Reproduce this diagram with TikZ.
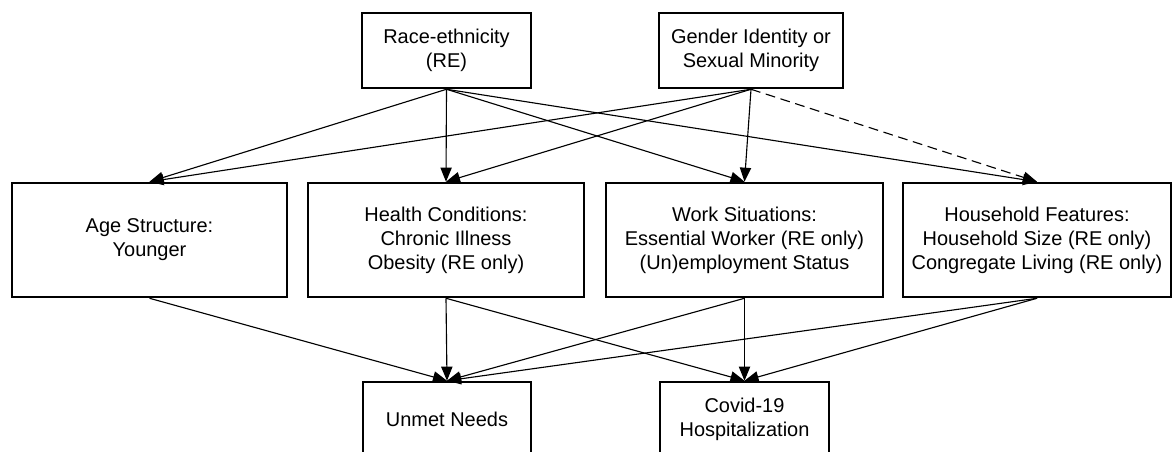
\documentclass[tikz,border=0pt]{standalone}
\usepackage{fontspec}
\setmainfont{Liberation Sans}
\usepackage{tikz}
\usetikzlibrary{arrows.meta, positioning}

\begin{document}
\begin{tikzpicture}[font=\fontsize{14.2}{17}\selectfont, >={Triangle[length=10pt,width=8pt]}, line width=0.8pt,
    factor/.style={draw, line width=1.8pt, align=center, inner sep=0pt},
    topbox/.style={factor, minimum height=1.875cm},
    midbox/.style={factor, minimum height=2.85cm}]
    \clip (0,0) rectangle (29.325,11.275);

    % exposures
    \node[topbox, minimum width=4.225cm] (re) at (11.1625,10.0125) {Race-ethnicity\\(RE)};
    \node[topbox, minimum width=4.6cm] (gsm) at (18.775,10.0125) {Gender Identity or\\Sexual Minority};

    % mediators
    \node[midbox, minimum width=6.875cm] (age) at (3.7375,5.275) {Age Structure:\\Younger};
    \node[midbox, minimum width=6.9cm] (health) at (11.15,5.275) {Health Conditions:\\Chronic Illness\\Obesity (RE only)};
    \node[midbox, minimum width=6.925cm] (work) at (18.6125,5.275) {Work Situations:\\Essential Worker (RE only)\\(Un)employment Status};
    \node[midbox, minimum width=6.7cm] (house) at (25.925,5.275) {Household Features:\\Household Size (RE only)\\Congregate Living (RE only)};

    % outcomes
    \node[topbox, minimum width=4.2cm] (unmet) at (11.175,0.7875) {Unmet Needs};
    \node[topbox, minimum width=4.225cm] (covid) at (18.6125,0.7875) {Covid-19\\Hospitalization};

    \draw[->] (re.south) -- (age.north);
    \draw[->] (re.south) -- (health.north);
    \draw[->] (re.south) -- (work.north);
    \draw[->] (re.south) -- (house.north);
    \draw[->] (gsm.south) -- (age.north);
    \draw[->] (gsm.south) -- (health.north);
    \draw[->] (gsm.south) -- (work.north);
    \draw[->, dash pattern=on 7pt off 4pt] (gsm.south) -- (house.north);

    \draw[->] (age.south) -- (unmet.north);
    \draw[->] (health.south) -- (unmet.north);
    \draw[->] (health.south) -- (covid.north);
    \draw[->] (work.south) -- (unmet.north);
    \draw[->] (work.south) -- (covid.north);
    \draw[->] (house.south) -- (unmet.north);
    \draw[->] (house.south) -- (covid.north);
\end{tikzpicture}
\end{document}
